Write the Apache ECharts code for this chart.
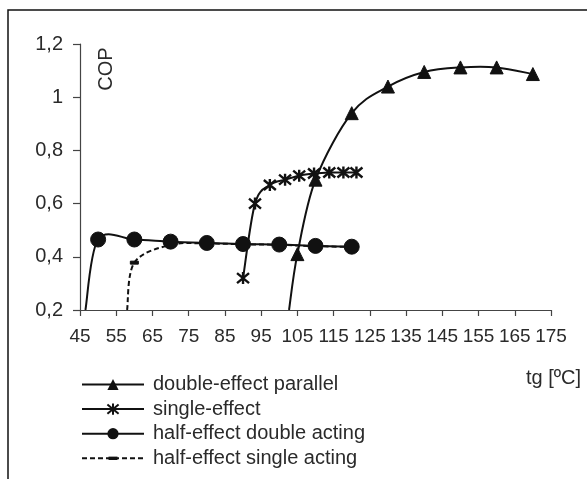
<!DOCTYPE html>
<html>
<head>
<meta charset="utf-8">
<script src="https://cdn.jsdelivr.net/npm/echarts@6/dist/echarts.min.js"></script>
<style>
  html, body { margin: 0; padding: 0; background: #fff; }
  #chart { width: 587px; height: 479px; }
</style>
</head>
<body>
<div id="chart"></div>
<script>
// Generator temperature tg [ºC] vs. COP for four absorption chiller cycles.
// Points flagged hidden sit on the lower axis edge and only shape the curve.
const seriesNames = [
  'double-effect parallel',
  'single-effect',
  'half-effect double acting',
  'half-effect single acting'
];

const doubleEffectParallel = [
  [102.7, 0.2, 'hidden'], [105, 0.41], [110, 0.69], [120, 0.94], [130, 1.04],
  [140, 1.095], [150, 1.112], [160, 1.112], [170, 1.087]
];

const singleEffect = [
  [90, 0.32], [93.3, 0.6], [97.4, 0.67], [101.6, 0.69], [105.5, 0.705],
  [109.6, 0.713], [113.8, 0.717], [117.7, 0.717], [121.3, 0.717]
];

const halfEffectDoubleActing = [
  [46.5, 0.2, 'hidden'], [50, 0.465], [60, 0.465], [70, 0.457], [80, 0.452],
  [90, 0.448], [100, 0.446], [110, 0.441], [120, 0.438]
];

const halfEffectSingleActing = [
  [58, 0.2, 'hidden'], [60, 0.378], [70, 0.445], [80, 0.45], [90, 0.447],
  [100, 0.445], [110, 0.44], [120, 0.437]
];

const xTicks = { min: 45, max: 175, step: 10 };
const yTicks = { min: 0.2, max: 1.2, step: 0.2 };

const FONT = '"Liberation Sans", Arial, sans-serif';
const INK = '#111';
const TEXT = '#2a2a2a';
const DASH = [5, 3];

// asterisk-style marker: an X crossed by a vertical stroke
const starPath = 'path://M0,0L10,10M10,0L0,10M5,-1L5,11';
// short flat dash centred in a square box (the move-tos keep the box square)
const dashPath = 'path://M0,0M10,10M1,3.5L9,3.5L9,6.5L1,6.5Z';

// Markers (and legend entries) come from plain line series whose own
// line is switched off; the connecting curve is a Catmull-Rom spline
// drawn by a custom series through the same points.
function markerSeries(name, points, extra) {
  return Object.assign({
    name: name,
    type: 'line',
    data: points.filter(p => p[2] !== 'hidden').map(p => [p[0], p[1]]),
    clip: true,
    z: 5,
    lineStyle: { width: 0 },
    itemStyle: { color: INK, borderColor: INK },
    emphasis: { disabled: true },
    animation: false
  }, extra);
}

function curveSeries(points, dash, z) {
  return {
    type: 'custom',
    coordinateSystem: 'cartesian2d',
    data: [[xTicks.min, yTicks.min]],
    clip: true,
    silent: true,
    z: z,
    animation: false,
    renderItem: function (params, api) {
      const px = points.map(p => api.coord([p[0], p[1]]));
      const children = [];
      for (let i = 0; i < px.length - 1; i++) {
        const p0 = px[i - 1] || px[i];
        const p1 = px[i];
        const p2 = px[i + 1];
        const p3 = px[i + 2] || px[i + 1];
        children.push({
          type: 'bezierCurve',
          shape: {
            x1: p1[0], y1: p1[1],
            cpx1: p1[0] + (p2[0] - p0[0]) / 6, cpy1: p1[1] + (p2[1] - p0[1]) / 6,
            cpx2: p2[0] - (p3[0] - p1[0]) / 6, cpy2: p2[1] - (p3[1] - p1[1]) / 6,
            x2: p2[0], y2: p2[1]
          },
          style: { fill: null, stroke: INK, lineWidth: 2, lineDash: dash || null }
        });
      }
      return { type: 'group', children: children };
    }
  };
}

const chart = echarts.init(document.getElementById('chart'), null, { renderer: 'canvas' });

chart.setOption({
  backgroundColor: '#fff',
  animation: false,
  textStyle: { fontFamily: FONT },
  grid: { left: 80, right: 36, top: 44, bottom: 169, containLabel: false },
  xAxis: {
    type: 'value',
    min: xTicks.min,
    max: xTicks.max,
    interval: xTicks.step,
    axisLine: { onZero: false, lineStyle: { color: '#444', width: 1.2 } },
    axisTick: { inside: false, length: 6, lineStyle: { color: '#444', width: 1.2 } },
    axisLabel: { color: TEXT, fontSize: 19, fontFamily: FONT, margin: 17 },
    splitLine: { show: false }
  },
  yAxis: {
    type: 'value',
    min: yTicks.min,
    max: yTicks.max,
    interval: yTicks.step,
    axisLine: { show: true, lineStyle: { color: '#444', width: 1.2 } },
    axisTick: { show: true, inside: false, length: 7, lineStyle: { color: '#444', width: 1.2 } },
    axisLabel: {
      color: TEXT, fontSize: 20, fontFamily: FONT, margin: 17,
      formatter: v => String(+v.toFixed(1)).replace('.', ',')
    },
    splitLine: { show: false }
  },
  legend: {
    orient: 'vertical',
    left: 81,
    top: 374.5,
    padding: 0,
    itemWidth: 62,
    itemHeight: 14,
    itemGap: 4.6,
    selectedMode: false,
    data: [
      { name: seriesNames[0], lineStyle: { color: INK, width: 2 } },
      { name: seriesNames[1], lineStyle: { color: INK, width: 2 } },
      { name: seriesNames[2], lineStyle: { color: INK, width: 2 } },
      { name: seriesNames[3], lineStyle: { color: INK, width: 2, type: DASH } }
    ],
    textStyle: { color: TEXT, fontSize: 20, fontFamily: FONT, lineHeight: 20, padding: [0, 0, 0, 4] }
  },
  graphic: [
    {
      type: 'rect',
      shape: { x: 8, y: 10, width: 620, height: 520 },
      style: { fill: 'none', stroke: '#111', lineWidth: 1.5 },
      silent: true
    },
    {
      type: 'text',
      x: 106, y: 69,
      rotation: Math.PI / 2,
      style: {
        text: 'COP', fill: TEXT, font: '20px ' + FONT,
        align: 'center', verticalAlign: 'middle'
      },
      silent: true
    },
    {
      type: 'text',
      x: 581, y: 378,
      style: {
        text: 'tg [ºC]', fill: TEXT, font: '20px ' + FONT,
        align: 'right', verticalAlign: 'middle'
      },
      silent: true
    }
  ],
  series: [
    markerSeries(seriesNames[0], doubleEffectParallel, {
      symbol: 'triangle', symbolSize: 13
    }),
    markerSeries(seriesNames[1], singleEffect, {
      symbol: starPath, symbolSize: 12,
      itemStyle: { color: INK, borderColor: INK, borderWidth: 2.4 }
    }),
    markerSeries(seriesNames[2], halfEffectDoubleActing, {
      symbol: 'circle', symbolSize: 15, z: 6
    }),
    markerSeries(seriesNames[3], halfEffectSingleActing, {
      symbol: dashPath, symbolSize: 10, z: 4
    }),
    curveSeries(doubleEffectParallel, null, 3),
    curveSeries(singleEffect, null, 3),
    curveSeries(halfEffectDoubleActing, null, 3),
    curveSeries(halfEffectSingleActing, DASH, 2)
  ]
});
</script>
</body>
</html>
